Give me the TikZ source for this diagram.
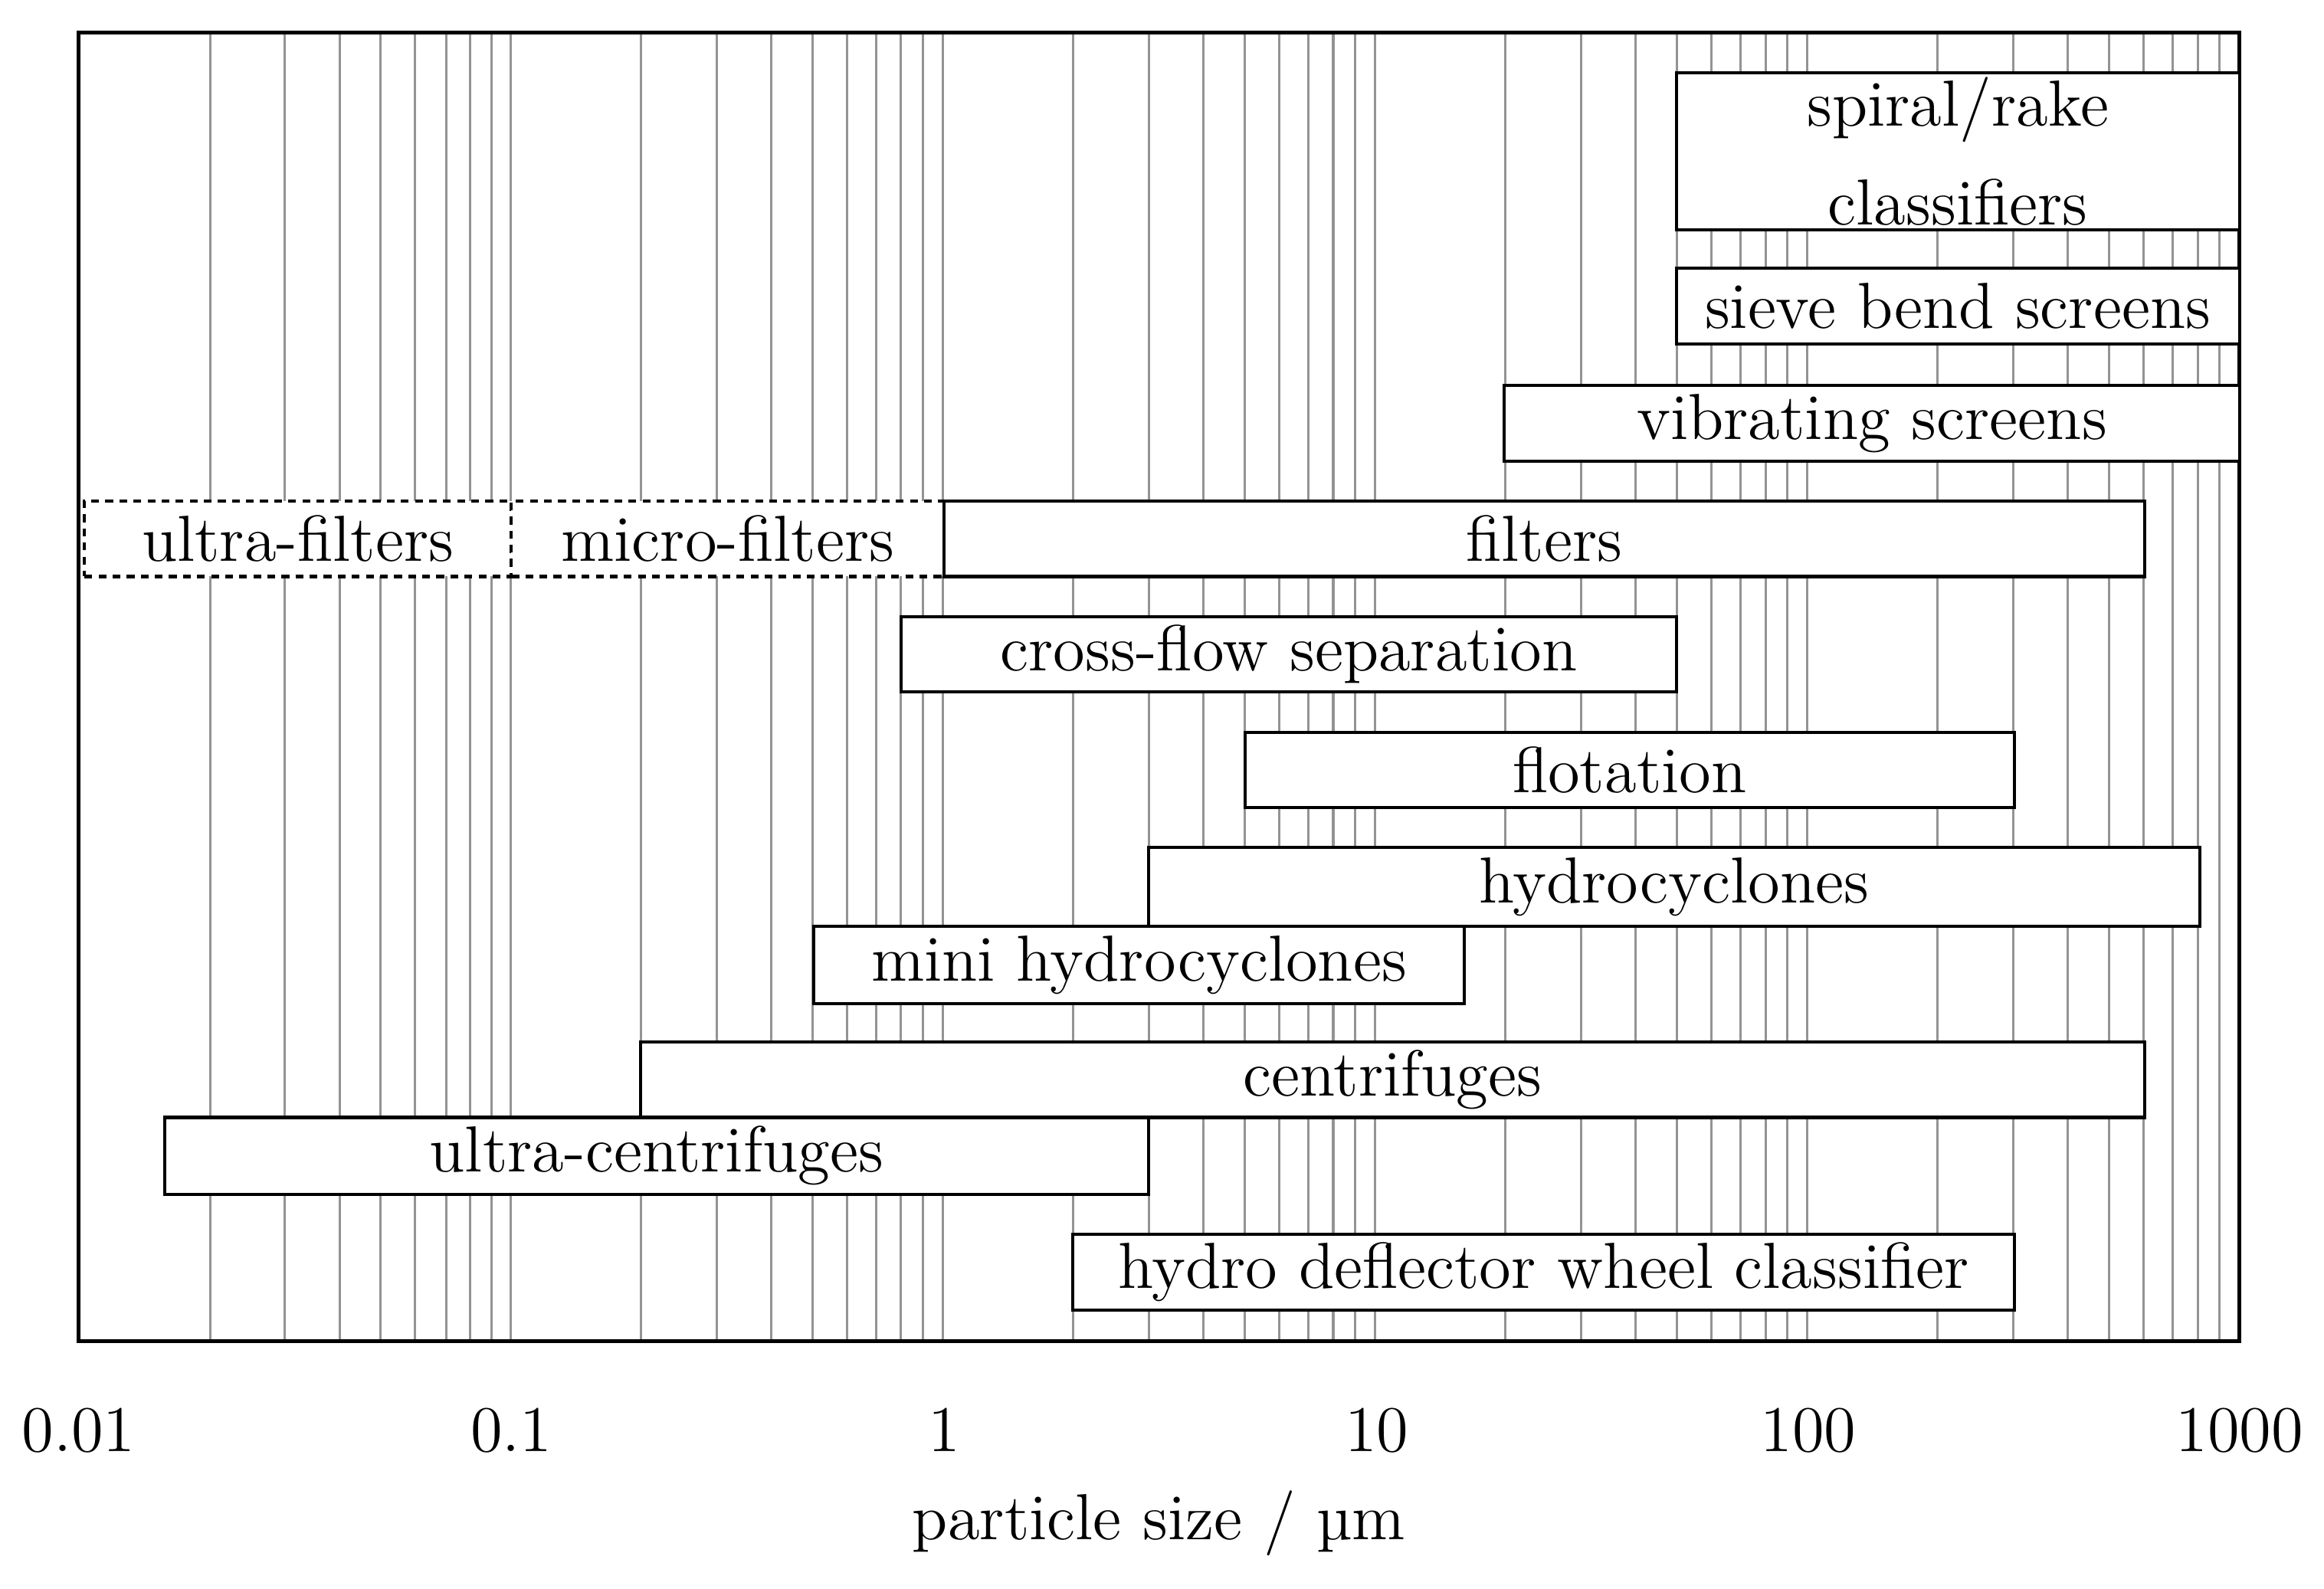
\documentclass[tikz,border=0pt]{standalone}
\usepackage{fontspec}
\begin{document}
\begin{tikzpicture}[x=0.01cm,y=-0.01cm,
  box/.style={draw,line width=0.6pt,fill=white,inner sep=0pt,font=\fontsize{12.5}{15}\selectfont,align=center},
  dbox/.style={box,dashed,dash pattern=on 1.5pt off 1.2pt},
  lbl/.style={font=\fontsize{12.5}{15}\selectfont},
  declare function={px(\v)=53+291.6*(log10(\v)+2);}]
\newcommand\mybox[7][box]{%
  \pgfmathsetmacro\cx{(#3+#4)/2}\pgfmathsetmacro\cy{(#5+#6)/2}%
  \pgfmathsetmacro\ww{(#4-#3)*0.01}\pgfmathsetmacro\hh{(#6-#5)*0.01}%
  \node[#1,minimum width=\ww cm,minimum height=\hh cm] (#2) at (\cx,\cy) {#7};}
\useasboundingbox (0,0) rectangle (1568,1072);
\fill[white] (0,0) rectangle (1568,1072);
% grid
\foreach \d in {0.01,0.1,1,10,100}{
  \foreach \m in {2,...,9}{
    \pgfmathsetmacro\xx{px(\d*\m)}
    \draw[gray!85,line width=0.45pt] (\xx,22) -- (\xx,905);
  }}
\foreach \v in {0.1,1,10,100}{
  \pgfmathsetmacro\xx{px(\v)}
  \draw[gray!85,line width=0.45pt] (\xx,22) -- (\xx,905);}
\mybox[draw,line width=0.7pt,inner sep=0pt]{frame}{53}{1511}{22}{905}{}
% boxes
\mybox{spiral}{1131}{1511}{49}{155}{spiral/rake\\[4pt]classifiers}
\mybox{sieve}{1131}{1511}{181}{232}{sieve bend screens}
\mybox{vib}{1015}{1511}{260}{311}{vibrating screens}
\mybox[dbox]{ultraf}{57}{345}{338}{389}{ultra-filters}
\mybox[dbox]{microf}{345}{637}{338}{389}{micro-filters}
\mybox{filters}{637}{1447}{338}{389}{filters}
\mybox{cross}{608}{1131}{416}{467}{cross-flow separation}
\mybox{flot}{840}{1359}{494}{545}{flotation}
\mybox{hydro}{775}{1484}{572}{625}{hydrocyclones}
\mybox{mini}{549}{988}{625}{677}{mini hydrocyclones}
\mybox{centr}{432}{1447}{703}{754}{centrifuges}
\mybox{ultrac}{111}{775}{754}{806}{ultra-centrifuges}
\mybox{defl}{724}{1359}{833}{884}{hydro deflector wheel classifier}
% tick labels
\node[lbl] (t1) at (53,965) {0.01};
\node[lbl] (t2) at (345,965) {0.1};
\node[lbl] (t3) at (637,965) {1};
\node[lbl] (t4) at (929,965) {10};
\node[lbl] (t5) at (1220,965) {100};
\node[lbl] (t6) at (1511,965) {1000};
\node[lbl] (xl) at (782,1028) {particle size / µm};
\end{tikzpicture}
\end{document}
